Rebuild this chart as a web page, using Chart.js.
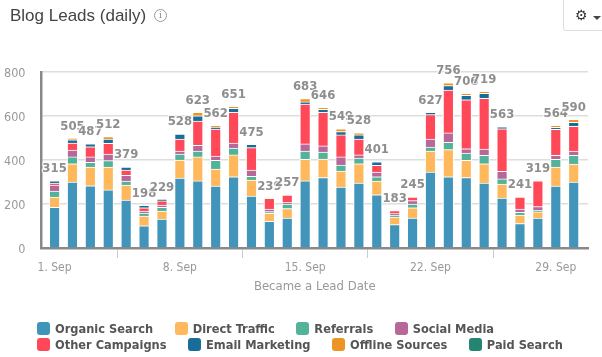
<!DOCTYPE html>
<html><head><meta charset="utf-8">
<script src="https://cdn.jsdelivr.net/npm/chart.js@4"></script>
<style>
html,body{margin:0;padding:0;background:#fff;width:602px;height:357px;overflow:hidden}
#wrap{position:relative;width:602px;height:357px}
canvas{position:absolute;left:0;top:0}
#title{position:absolute;left:10px;top:6px;font:17px/20px "Liberation Sans",sans-serif;color:#444}
#info{position:absolute;left:154px;top:9px;width:11px;height:11px;border:1px solid #999;border-radius:50%;font:9px/11px "DejaVu Serif",serif;color:#888;text-align:center}
#btn{position:absolute;left:563px;top:-2px;width:50px;height:33px;border:1px solid #ddd;border-radius:3px;box-sizing:border-box}
#gear{position:absolute;left:575px;top:5px;font:14px/20px "DejaVu Sans",sans-serif;color:#333}
#caret{position:absolute;left:593px;top:16px;width:0;height:0;border-left:4px solid transparent;border-right:4px solid transparent;border-top:4px solid #444}
#legend{position:absolute;left:37px;top:321px;font:bold 12.7px/16px "DejaVu Sans Condensed","DejaVu Sans",sans-serif;color:#555}
#legend div.row{display:flex;height:16px;white-space:nowrap}
#legend span.k{display:inline-block;width:13px;height:13px;border-radius:3px;margin:1px 5px 0 0;flex:none}
#legend span.t{margin-right:21.5px}
</style></head>
<body><div id="wrap">
<canvas id="c" width="602" height="357"></canvas>
<div id="title">Blog Leads (daily)</div><div id="info">i</div>
<div id="btn"></div><div id="gear">⚙</div><div id="caret"></div>
<div id="legend"></div>
</div>
<script>
const days=[1,2,3,4,5,6,7,8,9,10,11,12,13,14,15,16,17,18,19,20,21,22,23,24,25,26,27,28,29,30];
const tickDays=[1,8,15,22,29];
const totals=[315,505,487,512,379,198,229,528,623,562,651,475,239,257,683,646,549,528,401,183,245,627,756,706,719,563,241,319,564,590];
const organic=[185,300,283,264,218,101,132,318,305,282,324,236,121,136,305,320,277,295,242,106,136,345,324,320,295,227,111,136,282,300];
const direct=[47,83,85,104,68,44,36,82,109,77,99,73,37,43,98,84,73,88,62,35,47,96,123,78,88,64,39,28,86,82];
const referrals=[27,31,21,29,18,14,17,27,27,39,31,17,7,21,38,32,27,26,20,9,17,18,33,34,38,23,12,7,35,39];
const social=[27,31,25,30,26,9,10,14,26,20,23,28,12,8,32,28,37,14,21,6,15,36,43,19,29,34,15,17,18,20];
const other=[9,32,46,49,24,15,19,54,110,123,140,102,49,33,181,153,100,72,31,14,17,111,195,223,230,194,55,117,118,112];
const email=[10,15,14,19,14,11,7,23,24,9,18,15,0,0,10,13,15,19,16,0,0,11,20,20,23,9,0,0,9,18];
const offline=[0,6,0,12,0,0,0,0,16,7,9,0,0,0,15,9,13,9,0,0,0,0,13,9,9,0,0,0,9,14];
const paid=[0,0,0,0,0,0,0,0,0,0,0,0,0,0,0,0,0,0,0,0,0,0,0,0,0,0,0,0,0,0];
const names=["Organic Search","Direct Traffic","Referrals","Social Media","Other Campaigns","Email Marketing","Offline Sources","Paid Search"];
const colors=["#4195bb","#ffb85c","#53b29a","#b86799","#ff4858","#186d99","#ec9525","#248570"];
const values=[organic,direct,referrals,social,other,email,offline,paid];
const legendRows=[[0,1,2,3],[4,5,6,7]];

const FONT='"DejaVu Sans Condensed","DejaVu Sans",sans-serif';
const totalLabels={id:'totalLabels',afterDatasetsDraw(chart){
  const {ctx,scales:{x,y}}=chart;
  ctx.save();
  ctx.font='bold 13px '+FONT;ctx.textAlign='center';ctx.textBaseline='middle';
  ctx.lineJoin='round';
  days.forEach((d,i)=>{
    const top=values.reduce((s,a)=>s+a[i],0);
    const px=x.getPixelForValue(d),py=y.getPixelForValue(top)-12;
    ctx.strokeStyle='rgba(255,255,255,.7)';ctx.lineWidth=2.5;
    ctx.strokeText(totals[i],px,py);
    ctx.fillStyle='#8e8e8e';ctx.fillText(totals[i],px,py);
  });
  ctx.restore();
}};
new Chart(document.getElementById('c'),{
  type:'bar',
  data:{labels:days,datasets:names.map((n,i)=>({label:n,data:values[i],backgroundColor:colors[i],borderColor:'#fff',borderWidth:1,barThickness:10.5,stack:'s'}))},
  options:{responsive:false,animation:false,
    layout:{padding:{left:0,right:14,top:72,bottom:63}},
    plugins:{legend:{display:false},tooltip:{enabled:false},title:{display:false}},
    scales:{
      x:{type:'linear',stacked:true,min:0.27,max:30.8,offset:false,
        afterBuildTicks(s){s.ticks=tickDays.map(v=>({value:v}));},
        afterFit(s){s.height=46;},
        grid:{drawOnChartArea:false,drawTicks:true,tickLength:10,tickColor:'#ccc',tickWidth:1},
        border:{display:true,color:'#888',width:2.5},
        ticks:{autoSkip:false,maxRotation:0,padding:3,color:'#999',font:{family:FONT,size:12},callback:v=>v+'. Sep'},
        title:{display:true,text:'Became a Lead Date',color:'#999',font:{family:FONT,size:13},padding:{top:4,bottom:0}}
      },
      y:{stacked:true,min:0,max:800,
        afterBuildTicks(s){s.ticks=[0,200,400,600,800].map(v=>({value:v}));},
        afterFit(s){s.width=41.5;},
        grid:{color:'#ddd',lineWidth:1.5,drawTicks:false},
        border:{display:true,color:'#888',width:2.5},
        ticks:{color:'#999',padding:16,labelOffset:1.5,font:{family:FONT,size:12.5}}
      }
    }
  },
  plugins:[totalLabels]
});
const lg=document.getElementById('legend');
legendRows.forEach(r=>{const row=document.createElement('div');row.className='row';
  r.forEach(i=>{const k=document.createElement('span');k.className='k';k.style.background=colors[i];
    const t=document.createElement('span');t.className='t';t.textContent=names[i];row.append(k,t);});
  lg.append(row);});
</script></body></html>
